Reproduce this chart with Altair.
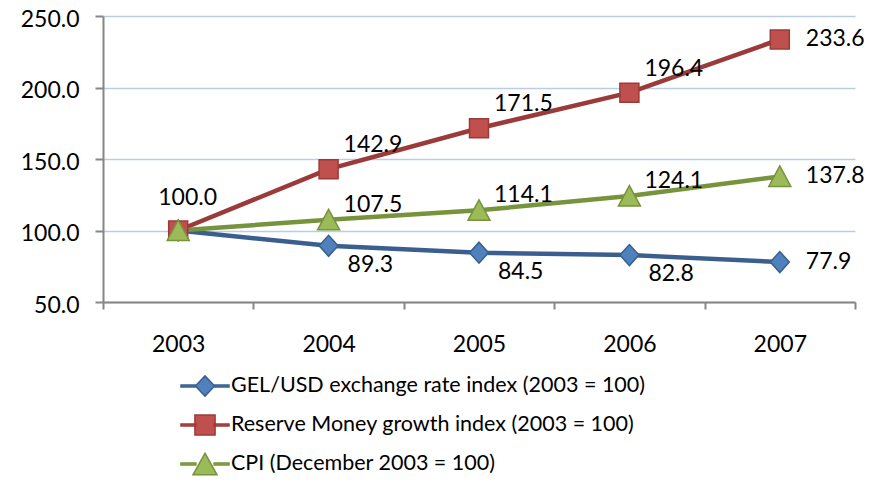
import altair as alt
import pandas as pd

years = ["2003", "2004", "2005", "2006", "2007"]
series_names = [
    "GEL/USD exchange rate index (2003 = 100)",
    "Reserve Money growth index (2003 = 100)",
    "CPI (December 2003 = 100)",
]
gel = [100.0, 89.3, 84.5, 82.8, 77.9]
reserve = [100.0, 142.9, 171.5, 196.4, 233.6]
cpi = [100.0, 107.5, 114.1, 124.1, 137.8]
y_ticks = [50, 100, 150, 200, 250]

line_colors = ["#3a5f8e", "#9b3b39", "#77933c"]
fill_colors = ["#4f81bd", "#c0504d", "#9bbb59"]

FONT = "Lato"
FS = 23

rows = []
for name, vals in zip(series_names, [gel, reserve, cpi]):
    for yr, v in zip(years, vals):
        rows.append({"year": yr, "value": v, "series": name})
df = pd.DataFrame(rows)

# chart marker shapes (custom paths, unit box)
chart_shapes = [
    "M-0.95,0L0,-1.05L0.95,0L0,1.05Z",
    "M-0.95,-0.95H0.95V0.95H-0.95Z",
    "M0,-1.05L1.1,1H-1.1Z",
]
# legend symbols: line + marker
seg = "M-1,-0.045H-0.38V0.045H-1Z M0.38,-0.045H1V0.045H0.38Z "
legend_shapes = [
    seg + "M-0.4,0L0,-0.42L0.4,0L0,0.42Z",
    seg + "M-0.42,-0.42H0.42V0.42H-0.42Z",
    seg + "M0,-0.45L0.5,0.45H-0.5Z",
]

leg = alt.Legend(
    title=None, orient="none", legendX=77, legendY=345,
    symbolSize=2304, symbolStrokeWidth=1.5, labelFont=FONT, labelFontSize=21.5,
    labelColor="#000000", labelOffset=1, rowPadding=0, padding=0, labelLimit=0,
)

x_enc = alt.X(
    "year:N",
    scale=alt.Scale(domain=years, paddingInner=0, paddingOuter=0),
    axis=alt.Axis(
        title=None, labelAngle=0, tickBand="extent", grid=False,
        domainColor="#868686", domainWidth=2, tickColor="#868686", tickWidth=2,
        tickSize=7, labelPadding=24, labelFont=FONT, labelFontSize=FS,
        labelColor="#000000",
    ),
)
y_enc = alt.Y(
    "value:Q",
    scale=alt.Scale(domain=[50, 250], nice=False, zero=False),
    axis=alt.Axis(
        title=None, values=y_ticks, format=".1f", grid=True,
        gridColor="#b9cde5", gridWidth=1.5,
        domainColor="#868686", domainWidth=2, tickColor="#868686", tickWidth=2,
        tickSize=8, labelPadding=16, labelFont=FONT, labelFontSize=FS,
        labelColor="#000000", labelBaseline="alphabetic", labelOffset=10,
    ),
)

stroke_enc = alt.Stroke("series:N", legend=leg,
                        scale=alt.Scale(domain=series_names, range=line_colors))
fill_enc = alt.Fill("series:N", legend=leg,
                    scale=alt.Scale(domain=series_names, range=fill_colors))

base = alt.Chart(df)

lines = base.mark_line(strokeWidth=4.5).encode(x=x_enc, y=y_enc, stroke=stroke_enc)

point_layers = [
    base.transform_filter(alt.datum.series == name).mark_point(
        shape=path, filled=True, size=400, strokeWidth=1.5, opacity=1
    ).encode(x=x_enc, y=y_enc, fill=fill_enc, stroke=stroke_enc)
    for name, path in zip(series_names, chart_shapes)
]

legend_layer = base.transform_filter("false").mark_point(
    filled=True, size=2304, strokeWidth=1.5, opacity=1
).encode(
    x=x_enc, y=y_enc, fill=fill_enc, stroke=stroke_enc,
    shape=alt.Shape("series:N", legend=leg,
                    scale=alt.Scale(domain=series_names, range=legend_shapes)),
)

def labels(filter_expr, dx, dy):
    return base.transform_filter(filter_expr).mark_text(
        align="left", baseline="middle", dx=dx, dy=dy,
        font=FONT, fontSize=FS, color="#000000"
    ).encode(x=x_enc, y=y_enc, text=alt.Text("value:Q", format=".1f"))

mid = "indexof(['2004','2005','2006'], datum.year) >= 0"
label_layers = [
    labels(f"datum.year == '2003' && datum.series == '{series_names[0]}'", -20, -33),
    labels(f"{mid} && datum.series == '{series_names[1]}'", 15, -24),
    labels(f"{mid} && datum.series == '{series_names[2]}'", 15, -15),
    labels(f"{mid} && datum.series == '{series_names[0]}'", 19, 19),
    labels("datum.year == '2007'", 26, 0),
]

chart = alt.layer(lines, *point_layers, legend_layer, *label_layers).properties(
    width=752, height=286,
    autosize=alt.AutoSizeParams(type="none"),
    padding={"left": 95, "top": 8, "right": 10, "bottom": 174},
).configure_view(stroke=None)

chart.save("out.html", embed_options={"renderer": "svg", "actions": False})
